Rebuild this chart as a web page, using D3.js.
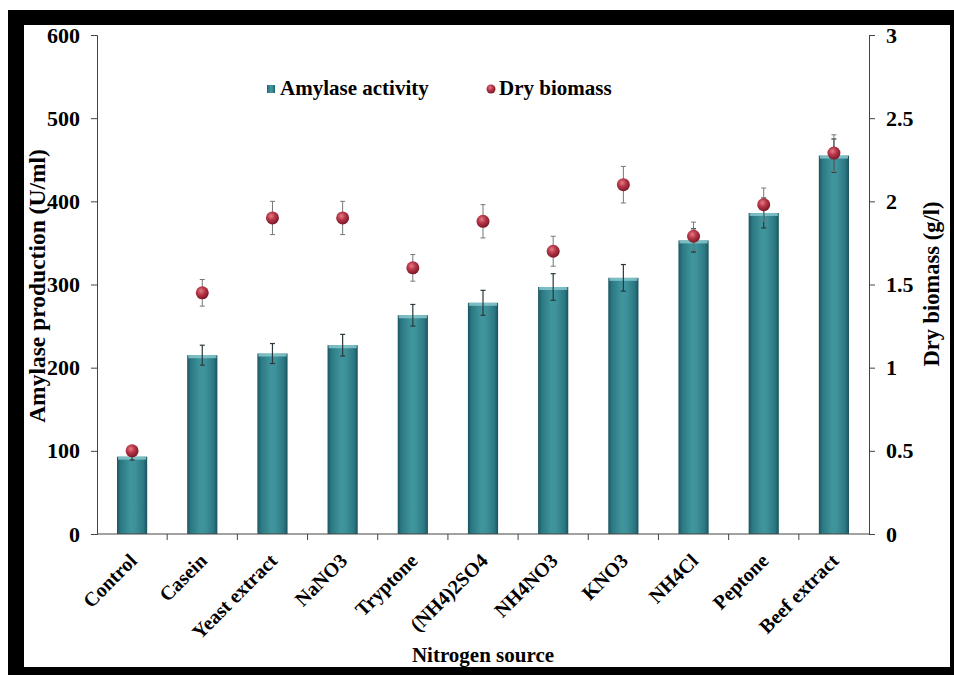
<!DOCTYPE html>
<html>
<head>
<meta charset="utf-8">
<script src="https://cdn.jsdelivr.net/npm/d3@7/dist/d3.min.js"></script>
<style>
  html, body { margin: 0; padding: 0; background: #fff; }
  text { font-family: "Liberation Serif", "Times New Roman", serif; font-weight: bold; fill: #000; }
</style>
</head>
<body>
<svg id="chart" width="954" height="675"></svg>
<script>
// Nitrogen sources tested
const categories = ["Control", "Casein", "Yeast extract", "NaNO3", "Tryptone", "(NH4)2SO4",
                    "NH4NO3", "KNO3", "NH4Cl", "Peptone", "Beef extract"];
// Amylase production (U/ml) with standard deviations
const amylase    = [93, 215, 217, 227, 263, 278, 297, 308, 353, 386, 455];
const amylaseErr = [4, 12, 12, 13, 13, 15, 16, 16, 14, 18, 20];
// Dry biomass (g/l) with standard deviations
const biomass    = [0.5, 1.45, 1.9, 1.9, 1.6, 1.88, 1.7, 2.1, 1.79, 1.98, 2.29];
const biomassErr = [0.02, 0.08, 0.1, 0.1, 0.08, 0.1, 0.09, 0.11, 0.085, 0.1, 0.11];
// Axis ticks
const leftTicks  = [0, 100, 200, 300, 400, 500, 600];
const rightTicks = [0, 0.5, 1, 1.5, 2, 2.5, 3];
const rightTickLabels = ["0", "0.5", "1", "1.5", "2", "2.5", "3"];

const svg = d3.select("#chart");
const W = 954, H = 675;
const x0 = 97, x1 = 869, yTop = 35, yBot = 534;

// Black picture frame around a white panel
svg.append("rect").attr("x", 0).attr("y", 0).attr("width", W).attr("height", H).attr("fill", "#fff");
svg.append("rect").attr("x", 8).attr("y", 10).attr("width", W - 8).attr("height", H - 10).attr("fill", "#000");
svg.append("rect").attr("x", 24).attr("y", 25).attr("width", 926).attr("height", 642).attr("fill", "#fff");

const defs = svg.append("defs");
const barGrad = defs.append("linearGradient").attr("id", "barGrad")
  .attr("x1", "0%").attr("x2", "100%").attr("y1", "0%").attr("y2", "0%");
[[0, "#1b5560"], [0.12, "#2b7882"], [0.45, "#40959d"], [0.6, "#3e919a"], [0.88, "#2b7782"], [1, "#1a525c"]]
  .forEach(([o, c]) => barGrad.append("stop").attr("offset", o).attr("stop-color", c));
const dotGrad = defs.append("radialGradient").attr("id", "dotGrad")
  .attr("cx", "40%").attr("cy", "35%").attr("r", "65%");
[[0, "#e47d86"], [0.45, "#b8384a"], [1, "#7c1828"]]
  .forEach(([o, c]) => dotGrad.append("stop").attr("offset", o).attr("stop-color", c));

const x = d3.scaleBand().domain(categories).range([x0, x1]).paddingInner(0.57).paddingOuter(0.285);
const yL = d3.scaleLinear().domain([0, 600]).range([yBot, yTop]);
const yR = d3.scaleLinear().domain([0, 3]).range([yBot, yTop]);

// Bars
const bars = svg.append("g");
bars.selectAll("rect.bar").data(categories).join("rect").attr("class", "bar")
  .attr("x", d => x(d)).attr("width", x.bandwidth())
  .attr("y", (d, i) => yL(amylase[i])).attr("height", (d, i) => yBot - yL(amylase[i]))
  .attr("fill", "url(#barGrad)");
bars.selectAll("rect.cap").data(categories).join("rect").attr("class", "cap")
  .attr("x", d => x(d) + 1).attr("width", x.bandwidth() - 2)
  .attr("y", (d, i) => yL(amylase[i])).attr("height", 3)
  .attr("fill", "#8ccdd2").attr("opacity", 0.8);

// Amylase error bars
const eb = svg.append("g").attr("stroke", "#2a3a3c").attr("stroke-width", 1.2);
categories.forEach((c, i) => {
  const cx = x(c) + x.bandwidth() / 2;
  const t = yL(amylase[i] + amylaseErr[i]), b = yL(amylase[i] - amylaseErr[i]);
  eb.append("line").attr("x1", cx).attr("x2", cx).attr("y1", t).attr("y2", b);
  eb.append("line").attr("x1", cx - 2.5).attr("x2", cx + 2.5).attr("y1", t).attr("y2", t);
  eb.append("line").attr("x1", cx - 2.5).attr("x2", cx + 2.5).attr("y1", b).attr("y2", b);
});

// Biomass error bars and points
const db = svg.append("g");
categories.forEach((c, i) => {
  const cx = x(c) + x.bandwidth() / 2;
  const t = yR(biomass[i] + biomassErr[i]), b = yR(biomass[i] - biomassErr[i]);
  const g = db.append("g").attr("stroke", "#777").attr("stroke-width", 1);
  g.append("line").attr("x1", cx).attr("x2", cx).attr("y1", t).attr("y2", b);
  g.append("line").attr("x1", cx - 2.5).attr("x2", cx + 2.5).attr("y1", t).attr("y2", t);
  g.append("line").attr("x1", cx - 2.5).attr("x2", cx + 2.5).attr("y1", b).attr("y2", b);
});
db.selectAll("circle").data(categories).join("circle")
  .attr("cx", d => x(d) + x.bandwidth() / 2)
  .attr("cy", (d, i) => yR(biomass[i]))
  .attr("r", 6.5).attr("fill", "url(#dotGrad)");

// Axes
const axisStyle = g => {
  g.selectAll("path, line").attr("stroke", "#444").attr("stroke-width", 1);
  g.selectAll("text").attr("font-size", 22).attr("font-family", "Liberation Serif").attr("font-weight", "bold").attr("fill", "#000");
};
svg.append("g").attr("transform", `translate(${x0},0)`)
  .call(d3.axisLeft(yL).tickValues(leftTicks).tickSize(6).tickSizeOuter(6).tickPadding(11).tickFormat(d3.format("d")))
  .call(axisStyle);
svg.append("g").attr("transform", `translate(${x1},0)`)
  .call(d3.axisRight(yR).tickValues(rightTicks).tickSize(6).tickSizeOuter(6).tickPadding(11)
    .tickFormat((d, i) => rightTickLabels[i]))
  .call(axisStyle);

// Category axis: ticks sit between categories
const xa = svg.append("g").attr("transform", `translate(0,${yBot})`);
xa.append("line").attr("x1", x0).attr("x2", x1).attr("y1", 0).attr("y2", 0).attr("stroke", "#444");
const step = x.step();
d3.range(1, categories.length).forEach(k => {
  const tx = x(categories[0]) - x.paddingInner() * step / 2 + k * step;
  xa.append("line").attr("x1", tx).attr("x2", tx).attr("y1", 0).attr("y2", 6).attr("stroke", "#444");
});
xa.selectAll("text").data(categories).join("text")
  .attr("text-anchor", "end").attr("font-size", 20)
  .attr("transform", d => `translate(${x(d) + x.bandwidth() / 2 + 6},${28}) rotate(-45)`)
  .text(d => d);

// Axis titles
svg.append("text").attr("text-anchor", "middle").attr("font-size", 23.5)
  .attr("transform", `translate(45,286) rotate(-90)`).text("Amylase production (U/ml)");
svg.append("text").attr("text-anchor", "middle").attr("font-size", 22.5)
  .attr("transform", `translate(939,284) rotate(-90)`).text("Dry biomass (g/l)");
svg.append("text").attr("text-anchor", "middle").attr("font-size", 21)
  .attr("x", 483).attr("y", 662).text("Nitrogen source");

// Legend
const lg = svg.append("g");
lg.append("rect").attr("x", 267).attr("y", 85).attr("width", 8).attr("height", 8).attr("fill", "url(#barGrad)");
lg.append("text").attr("x", 280).attr("y", 95).attr("font-size", 21).text("Amylase activity");
lg.append("circle").attr("cx", 491).attr("cy", 89).attr("r", 4.5).attr("fill", "url(#dotGrad)");
lg.append("text").attr("x", 499).attr("y", 95).attr("font-size", 21).text("Dry biomass");
</script>
</body>
</html>
